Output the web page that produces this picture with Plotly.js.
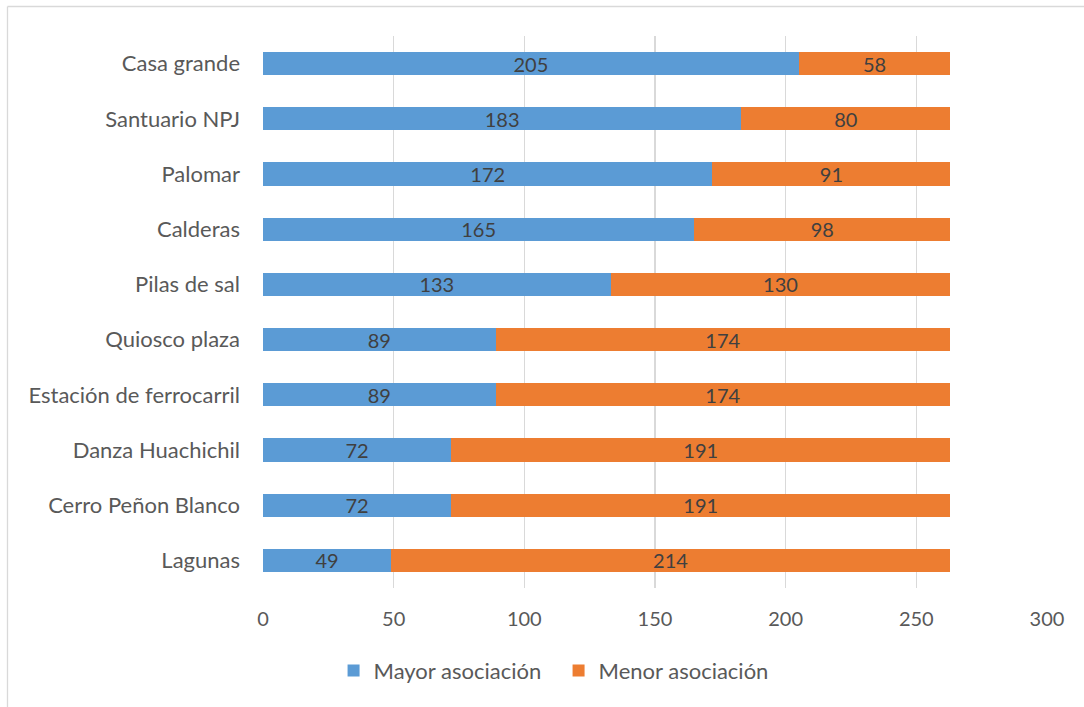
<!DOCTYPE html>
<html>
<head>
<meta charset="utf-8">
<script src="https://cdn.plot.ly/plotly-3.0.1.min.js"></script>
<style>html,body{margin:0;padding:0;background:#fff;}#chart{width:1084px;height:707px;}</style>
</head>
<body>
<div id="chart"></div>
<script>
const categories = ["Casa grande","Santuario NPJ","Palomar","Calderas","Pilas de sal","Quiosco plaza","Estación de ferrocarril","Danza Huachichil","Cerro Peñon Blanco","Lagunas"];
const mayor = [205,183,172,165,133,89,89,72,72,49];
const menor = [58,80,91,98,130,174,174,191,191,214];
const seriesNames = ["Mayor asociación","Menor asociación"];
const xTicks = [0,50,100,150,200,250,300];

const FONT = "Lato, Carlito, Calibri, sans-serif";
const common = {
  type: 'bar', orientation: 'h', y: categories,
  textposition: 'inside', insidetextanchor: 'middle', textangle: 0, constraintext: 'none',
  textfont: {family: FONT, size: 20, color: '#404040'},
  hoverinfo: 'skip', cliponaxis: false
};
const data = [
  Object.assign({}, common, {name: seriesNames[0], x: mayor, text: mayor.map(String), marker: {color: '#5B9BD5', line: {width: 0}}}),
  Object.assign({}, common, {name: seriesNames[1], x: menor, text: menor.map(String), marker: {color: '#ED7D31', line: {width: 0}}})
];

const layout = {
  width: 1084, height: 707,
  margin: {l: 263, r: 37, t: 36, b: 119},
  barmode: 'stack', bargap: 0.58,
  paper_bgcolor: '#fff', plot_bgcolor: '#fff',
  font: {family: FONT, size: 20, color: '#595959'},
  showlegend: true,
  legend: {orientation: 'h', x: 0.377, xanchor: 'center', y: -0.15, yanchor: 'middle',
           font: {family: FONT, size: 22, color: '#595959'}, traceorder: 'normal', itemwidth: 30,
           entrywidth: 180, entrywidthmode: 'pixels'},
  xaxis: {range: [0, 300], tickvals: xTicks, ticktext: xTicks.map(String), showgrid: true, gridcolor: '#d9d9d9', gridwidth: 1.3,
          zeroline: false, showline: false, ticks: '', ticklabelstandoff: 17, fixedrange: true,
          tickfont: {family: FONT, size: 20, color: '#595959'}},
  yaxis: {type: 'category', autorange: 'reversed', showgrid: false, zeroline: false, showline: false, ticks: '',
          ticklabelstandoff: 22, fixedrange: true, tickfont: {family: FONT, size: 22, color: '#595959'}},
  shapes: [
    {type: 'line', xref: 'paper', yref: 'paper', x0: -0.3259, x1: -0.3259, y0: -0.3, y1: 1.0534, line: {color: '#d9d9d9', width: 1.3}},
    {type: 'line', xref: 'paper', yref: 'paper', x0: -0.3259, x1: 1.1, y0: 1.0534, y1: 1.0534, line: {color: '#d9d9d9', width: 1.3}}
  ]
};
Plotly.newPlot('chart', data, layout, {displayModeBar: false, staticPlot: true});
</script>
</body>
</html>
